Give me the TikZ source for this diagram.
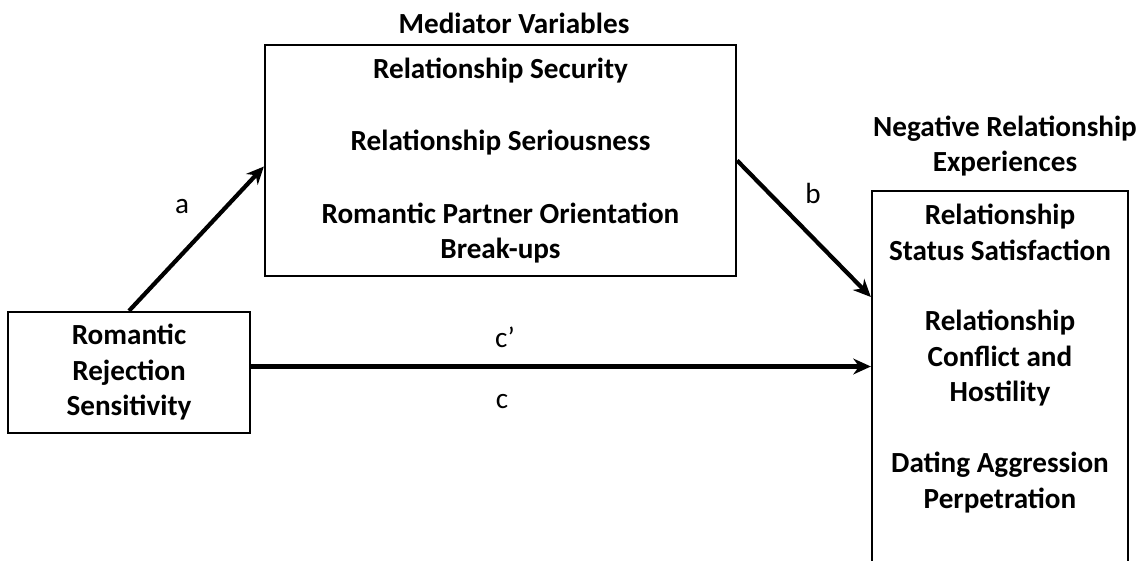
\documentclass[tikz,border=0pt]{standalone}
\usepackage{fontspec}
\setmainfont{Carlito}
\usetikzlibrary{arrows.meta, positioning, calc}
\tikzset{
  font=\fontsize{16.6}{20.2}\selectfont\bfseries,   % bold text everywhere
  varbox/.style  = {rectangle, draw, line width=1.3pt,
                    inner sep=0pt, align=center},
  title/.style   = {align=center, inner sep=0pt},
  effect/.style  = {line width=2.4pt, -{Stealth[length=10pt, width=9pt]}},
  coef/.style    = {font=\fontsize{16.6}{20.2}\selectfont\mdseries, inner sep=0pt}
}

\begin{document}
\begin{tikzpicture}[x=0.02cm, y=-0.02cm]
  \useasboundingbox (0,0) rectangle (1143,561);
  \clip (0,0) rectangle (1143,561);
  % variable boxes
  \node[varbox, minimum width=4.84cm, minimum height=2.42cm] (rrs) at (129,372.5)
    {Romantic\\Rejection\\Sensitivity};
  \node[varbox, minimum width=9.42cm, minimum height=4.62cm] (med) at (500.5,160.5)
    {Relationship Security\\[21pt]Relationship Seriousness\\[21pt]Romantic Partner Orientation\\Break-ups};
  \node[varbox, minimum width=5.12cm, minimum height=9cm, anchor=north] (neg) at (1000,190) {};
  \node[title, anchor=north] (negtxt) at ($(neg.north)+(0,14)$)
    {Relationship\\Status Satisfaction\\[20pt]Relationship\\Conflict and\\Hostility\\[20pt]Dating Aggression\\Perpetration};
  % titles
  \node[title] (medtitle) at (514,23) {Mediator Variables};
  \node[title] (negtitle) at (1005,146) {Negative Relationship\\Experiences};
  % paths
  \coordinate (aend) at ($(med.west)+(0,6)$);
  \coordinate (bend) at ($(neg.north west)+(0,107)$);
  \coordinate (cstart) at ($(rrs.east)+(0,-6)$);
  \draw[effect] (rrs.north) -- (aend);
  \draw[effect] (med.east) -- (bend);
  \draw[effect] (cstart) -- (cstart -| neg.west);
  \node[coef] (la) at (182,207) {a};
  \node[coef] (lb) at (813,193) {b};
  \node[coef] (lcp) at (505,337) {c’};
  \node[coef] (lc) at (502,402) {c};
\end{tikzpicture}
\end{document}
